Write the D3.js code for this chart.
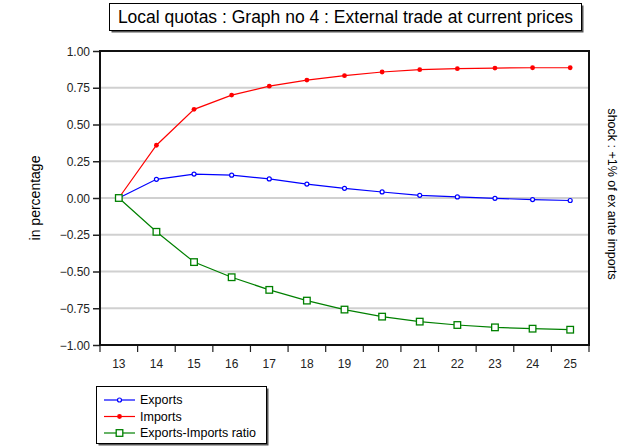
<!DOCTYPE html>
<html>
<head>
<meta charset="utf-8">
<script src="https://cdn.jsdelivr.net/npm/d3@7"></script>
<style>
  body { margin: 0; background: #fff; }
  svg { font-family: Arial, "Liberation Sans", sans-serif; }
</style>
</head>
<body>
<div id="plotRegi"></div>
<script>
/* Data */
var years = [13, 14, 15, 16, 17, 18, 19, 20, 21, 22, 23, 24, 25]
var exportsVals = [0, 0.127, 0.163, 0.155, 0.130, 0.095, 0.066, 0.041, 0.018, 0.007, -0.002, -0.011, -0.017]
var importsVals = [0, 0.359, 0.603, 0.700, 0.761, 0.802, 0.832, 0.857, 0.873, 0.880, 0.884, 0.886, 0.886]
var ratioVals = [0, -0.230, -0.436, -0.539, -0.625, -0.698, -0.759, -0.807, -0.841, -0.864, -0.880, -0.889, -0.896]
var yTicks = [-1, -0.75, -0.5, -0.25, 0, 0.25, 0.5, 0.75, 1]

var titleText = "Local quotas : Graph no 4 : External trade at current prices"
var yTitle = "in percentage"
var rightTitle = "shock : +1% of ex ante imports"

var series = [
    { name: "Exports", values: exportsVals, color: "#0000ff", marker: "openCircle" },
    { name: "Imports", values: importsVals, color: "#ff0000", marker: "dot" },
    { name: "Exports-Imports ratio", values: ratioVals, color: "#008000", marker: "square" }
]

/* Layout */
var W = 633, H = 447
var margin = { top: 51, right: 44, bottom: 102, left: 100 },
    width = W - margin.left - margin.right,
    height = H - margin.top - margin.bottom

var scale_x = d3.scalePoint().domain(years).range([0, width]).padding(0.5)
var band = scale_x.step()
var scale_y = d3.scaleLinear().domain([-1, 1]).range([height, 0])

var svg = d3.select("#plotRegi").append("svg")
    .attr("width", W).attr("height", H)

// Title box with shadow
var tb = svg.append("g").attr("id", "TitleBox")
tb.append("rect").attr("x", 111.5).attr("y", 5.5).attr("width", 472).attr("height", 27)
    .style("fill", "#555")
tb.append("rect").attr("x", 109.5).attr("y", 3.5).attr("width", 472).attr("height", 27)
    .style("fill", "white").style("stroke", "black").style("stroke-width", 1)
tb.append("text").attr("x", 345.5).attr("y", 23).attr("text-anchor", "middle")
    .style("font-size", "17.5px").text(titleText)

var g = svg.append("g").attr("id", "Canvas")
    .attr("transform", "translate(" + margin.left + "," + margin.top + ")")

// Gridlines
g.append("g").selectAll("line")
    .data(yTicks.filter(d => d > -1 && d < 1))
    .enter().append("line")
    .attr("x1", 0).attr("x2", width)
    .attr("y1", d => scale_y(d)).attr("y2", d => scale_y(d))
    .style("stroke", "#d0d0d0").style("stroke-width", "2px")

// Y axis
var axY = g.append("g").attr("id", "AxisY")
    .call(d3.axisLeft(scale_y).tickValues(yTicks).tickFormat(d3.format(".2f")).tickSizeOuter(0).tickSize(7).tickPadding(3))
axY.select(".domain").remove()
axY.selectAll("line").style("stroke", "#222").style("stroke-width", "1.5px")
axY.selectAll("text").style("font-size", "12px").style("fill", "#222")
    .attr("dy", "0.35em")

// X axis: ticks between categories
var axX = g.append("g").attr("id", "AxisX")
    .attr("transform", "translate(0," + height + ")")
axX.selectAll("line").data(d3.range(years.length + 1)).enter().append("line")
    .attr("x1", i => i * band).attr("x2", i => i * band)
    .attr("y1", 0).attr("y2", 7)
    .style("stroke", "#222").style("stroke-width", "1.2px")
axX.selectAll("text").data(years).enter().append("text")
    .attr("x", d => scale_x(d)).attr("y", 23)
    .attr("text-anchor", "middle").style("font-size", "12px").style("fill", "#222")
    .text(d => d)

// Frame
g.append("rect").attr("x", 0).attr("y", 0).attr("width", width).attr("height", height)
    .style("fill", "none").style("stroke", "#111").style("stroke-width", "2px")

// Lines and markers
var line = d3.line().x((d, i) => scale_x(years[i])).y(d => scale_y(d))

function drawMarker(sel, s, x, y) {
    if (s.marker === "openCircle") {
        sel.append("circle").attr("cx", x).attr("cy", y).attr("r", 2)
            .style("fill", "white").style("stroke", s.color).style("stroke-width", 1.2)
    } else if (s.marker === "dot") {
        sel.append("circle").attr("cx", x).attr("cy", y).attr("r", 2.4)
            .style("fill", s.color)
    } else {
        sel.append("rect").attr("x", x - 3.3).attr("y", y - 3.3).attr("width", 6.6).attr("height", 6.6)
            .style("fill", "white").style("stroke", s.color).style("stroke-width", 1.3)
    }
}

series.forEach(s => {
    var sg = g.append("g")
    sg.append("path").datum(s.values).attr("d", line)
        .style("fill", "none").style("stroke", s.color).style("stroke-width", "1.2px")
    s.values.forEach((v, i) => drawMarker(sg, s, scale_x(years[i]), scale_y(v)))
})

// Axis titles
svg.append("text").attr("transform", "translate(40," + (margin.top + height / 2) + ") rotate(-90)")
    .attr("text-anchor", "middle").style("font-size", "14px").text(yTitle)
svg.append("text").attr("transform", "translate(608," + (margin.top + height / 2 - 4) + ") rotate(90)")
    .attr("text-anchor", "middle").style("font-size", "12.5px").text(rightTitle)

// Legend
var lg = svg.append("g").attr("id", "Legend")
lg.append("rect").attr("x", 98.5).attr("y", 388.5).attr("width", 170).attr("height", 57)
    .style("fill", "#555")
lg.append("rect").attr("x", 96.5).attr("y", 386.5).attr("width", 170).attr("height", 57)
    .style("fill", "white").style("stroke", "black").style("stroke-width", 1)
series.forEach((s, i) => {
    var y = 400 + i * 16.5
    lg.append("line").attr("x1", 104).attr("x2", 135).attr("y1", y).attr("y2", y)
        .style("stroke", s.color).style("stroke-width", "1.2px")
    drawMarker(lg, s, 119.5, y)
    lg.append("text").attr("x", 140).attr("y", y).attr("dy", "0.35em")
        .style("font-size", "12.5px").text(s.name)
})
</script>
</body>
</html>
